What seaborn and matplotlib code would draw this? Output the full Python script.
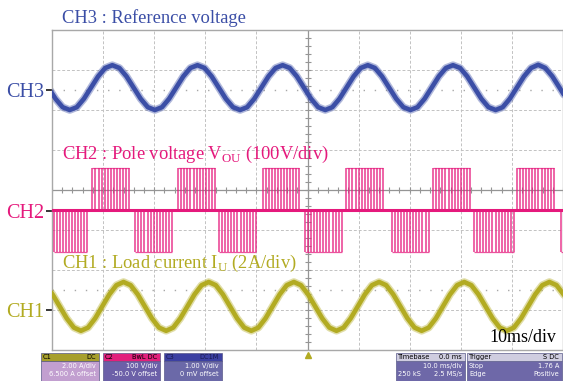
import numpy as np
import pandas as pd
import seaborn as sns
import matplotlib.pyplot as plt
from matplotlib.patches import Rectangle

# scope traces, in divisions (centre of screen = 0), time in ms
SAMPLE_MS = 1.389          # one sample every 30 deg of the 60 Hz wave
ch3_start_ms = -0.7
ch3_div = [
    2.56, 2.28, 2.07, 2.00, 2.07, 2.28, 2.56, 2.84, 3.05, 3.12, 3.05, 2.84,
    2.56, 2.28, 2.07, 2.00, 2.07, 2.28, 2.56, 2.84, 3.05, 3.12, 3.05, 2.84,
    2.56, 2.28, 2.07, 2.00, 2.07, 2.28, 2.56, 2.84, 3.05, 3.12, 3.05, 2.84,
    2.56, 2.28, 2.07, 2.00, 2.07, 2.28, 2.56, 2.84, 3.05, 3.12, 3.05, 2.84,
    2.56, 2.28, 2.07, 2.00, 2.07, 2.28, 2.56, 2.84, 3.05, 3.12, 3.05, 2.84,
    2.56, 2.28, 2.07, 2.00, 2.07, 2.28, 2.56, 2.84, 3.05, 3.13, 3.05, 2.84,
    2.56, 2.28,
]
ch1_start_ms = -1.28
ch1_div = [
    -2.38, -2.61, -2.91, -3.21, -3.44, -3.52, -3.44, -3.21, -2.91, -2.61, -2.38, -2.30,
    -2.38, -2.61, -2.91, -3.21, -3.44, -3.52, -3.44, -3.21, -2.91, -2.61, -2.38, -2.30,
    -2.38, -2.61, -2.91, -3.21, -3.44, -3.52, -3.44, -3.21, -2.91, -2.61, -2.38, -2.30,
    -2.38, -2.61, -2.91, -3.21, -3.44, -3.52, -3.44, -3.21, -2.91, -2.61, -2.38, -2.30,
    -2.38, -2.61, -2.91, -3.21, -3.44, -3.52, -3.44, -3.21, -2.91, -2.61, -2.38, -2.30,
    -2.38, -2.61, -2.91, -3.21, -3.44, -3.52, -3.44, -3.21, -2.91, -2.61, -2.38, -2.30,
    -2.38, -2.61, -2.91,
]

# pole voltage: base level, pulse levels and the pulse groups (ms)
ch2_base_div = -0.51
ch2_high_div = 0.55
ch2_low_div = -1.55
ch2_pulse_ms = 0.6
ch2_pos_windows = [(7.9, 15.3), (24.7, 32.0), (41.2, 48.6),
                   (57.6, 65.2), (74.6, 82.0), (91.0, 98.8)]
ch2_neg_windows = [(0.3, 7.2), (16.3, 24.0), (32.7, 40.3), (49.5, 57.0),
                   (66.5, 74.0), (82.6, 90.5), (99.6, 100.2)]

channel_names = ["CH3", "CH2", "CH1"]
channel_levels = [2.5, -0.52, -3.0]

BLUE = "#3b4ea6"
PINK = "#e5197c"
OLIVE = "#b2ab22"
channel_colors = [BLUE, PINK, OLIVE]

sns.set_style("white")
plt.rcParams["font.family"] = ["Liberation Serif", "DejaVu Serif"]
plt.rcParams["mathtext.fontset"] = "custom"
plt.rcParams["mathtext.rm"] = "Liberation Serif"

W, H = 563, 381
fig = plt.figure(figsize=(W / 100, H / 100), dpi=100)
ax = fig.add_axes([52 / W, 31 / H, 511 / W, 320 / H])
ax.set_xlim(0, 100)
ax.set_ylim(-4, 4)

# graticule
grid_kw = dict(color="#c2c2c2", lw=0.7, ls=(0, (3, 2)), zorder=0)
for gx in range(10, 100, 10):
    if gx != 50:
        ax.axvline(gx, **grid_kw)
for gy in range(-3, 4):
    if gy != 0:
        ax.axhline(gy, **grid_kw)
ax.axhline(2.5, color="#a8a8a8", lw=1, ls=(0, (1, 7)), zorder=0)
ax.axhline(-2.5, color="#a8a8a8", lw=1, ls=(0, (1, 7)), zorder=0)
ax.axhline(0, color="#959595", lw=0.9, zorder=0)
ax.axvline(50, color="#959595", lw=0.9, zorder=0)
minor_x = np.arange(0, 100.1, 2)
minor_y = np.arange(-4, 4.01, 0.2)
ax.plot(minor_x, np.zeros_like(minor_x), ls="none", marker="|", ms=4,
        mew=0.8, color="#959595", zorder=0)
ax.plot(np.full_like(minor_y, 50), minor_y, ls="none", marker="_", ms=4,
        mew=0.8, color="#959595", zorder=0)

# CH3 and CH1 traces
df3 = pd.DataFrame({"t": ch3_start_ms + SAMPLE_MS * np.arange(len(ch3_div)),
                    "v": ch3_div})
df1 = pd.DataFrame({"t": ch1_start_ms + SAMPLE_MS * np.arange(len(ch1_div)),
                    "v": ch1_div})
for df, col in [(df3, BLUE), (df1, OLIVE)]:
    sns.lineplot(data=df, x="t", y="v", ax=ax, color=col, linewidth=5.5,
                 alpha=0.4, estimator=None, sort=False, zorder=2)
    sns.lineplot(data=df, x="t", y="v", ax=ax, color=col, linewidth=3.3,
                 estimator=None, sort=False, zorder=3)

# CH2 pole voltage
ax.axhline(ch2_base_div, color=PINK, lw=2.2, zorder=3)
for windows, level in [(ch2_pos_windows, ch2_high_div),
                       (ch2_neg_windows, ch2_low_div)]:
    for t0, t1 in windows:
        ts = np.arange(t0, t1, ch2_pulse_ms)
        ax.vlines(ts, ch2_base_div, level, color=PINK, lw=1.1, alpha=0.85,
                  zorder=3)
        ax.hlines(level, ts[0], ts[-1], color=PINK, lw=0.9, alpha=0.75,
                  zorder=3)

ax.set_xlabel("")
ax.set_ylabel("")
ax.set_xticks([])
ax.set_yticks(channel_levels, channel_names)
ax.tick_params(axis="y", length=4.5, width=1.3, pad=1, labelsize=14.5,
               left=True)
for tick, col in zip(ax.yaxis.get_major_ticks(), channel_colors):
    tick.tick1line.set_color(col)
    tick.label1.set_color(col)
for sp in ax.spines.values():
    sp.set_color("#a8a8a8")
    sp.set_linewidth(1)

# trigger marker
ax.plot([50], [-4.12], marker="^", ms=5, color=OLIVE, clip_on=False)

# trace titles
ax.text(2.0, 4.3, "CH3 : Reference voltage", color=BLUE, fontsize=13.3,
        va="center", ha="left", clip_on=False)
ax.text(2.0, 0.88, r"CH2 : Pole voltage V$_{\mathrm{OU}}$ (100V/div)",
        color=PINK, fontsize=13.3, va="center", ha="left")
ax.text(2.0, -1.83, r"CH1 : Load current I$_{\mathrm{U}}$ (2A/div)",
        color=OLIVE, fontsize=13.3, va="center", ha="left")
ax.text(98.6, -3.7, "10ms/div", color="black", fontsize=13,
        va="center", ha="right")


# scope status boxes along the bottom
def status_box(x0, x1, head_col, body_col, head_left, head_right, rows,
               head_text="black"):
    fx, fw = x0 / W, (x1 - x0) / W
    fig.add_artist(Rectangle((fx, 1 - 381 / H), fw, (381 - 361) / H,
                             transform=fig.transFigure, color=body_col,
                             ec="#5a5a8a", lw=0.5))
    fig.add_artist(Rectangle((fx, 1 - 361 / H), fw, 8 / H,
                             transform=fig.transFigure, color=head_col,
                             ec="#5a5a8a", lw=0.5))
    fig.text(fx + 2 / W, 1 - 357 / H, head_left, fontsize=4.8,
             family="DejaVu Sans", color=head_text, va="center")
    fig.text((x1 - 3) / W, 1 - 357 / H, head_right, fontsize=4.8,
             family="DejaVu Sans", color=head_text, va="center", ha="right")
    for i, (left, right) in enumerate(rows):
        yy = 1 - (366 + 8.0 * i) / H
        fig.text(fx + 2 / W, yy, left, fontsize=4.8, family="DejaVu Sans",
                 color="white", va="center")
        fig.text((x1 - 3) / W, yy, right, fontsize=4.8, family="DejaVu Sans",
                 color="white", va="center", ha="right")


status_box(41, 99, "#a79f2c", "#c29fd0", "C1", "DC",
           [("", "2.00 A/div"), ("", "6.500 A offset")])
status_box(103, 160, "#e2207c", "#6c60a8", "C2", "BwL DC",
           [("", "100 V/div"), ("", "-50.0 V offset")])
status_box(164, 222, "#3c40a2", "#6b69a8", "C3", "DC1M",
           [("", "1.00 V/div"), ("", "0 mV offset")], head_text="#1a1a50")
status_box(396, 465, "#cfcde0", "#6e68a8", "Timebase", "0.0 ms",
           [("", "10.0 ms/div"), ("250 kS", "2.5 MS/s")])
status_box(467, 562, "#cfcde0", "#6e68a8", "Trigger", "S DC",
           [("Stop", "1.76 A"), ("Edge", "Positive")])

fig.savefig("out.png", dpi=100)
